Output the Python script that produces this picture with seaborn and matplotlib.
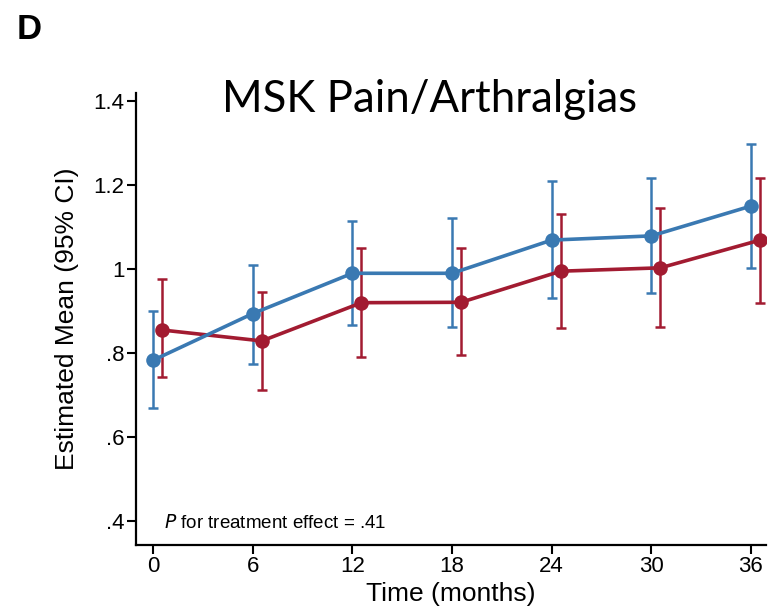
import numpy as np
import pandas as pd
import matplotlib
matplotlib.use("Agg")
import matplotlib.pyplot as plt
import seaborn as sns

# ---- data ----
months = [0, 6, 12, 18, 24, 30, 36]
groups = ["Group A", "Group B"]
mean_a = [0.783, 0.894, 0.990, 0.990, 1.069, 1.079, 1.150]
lo_a = [0.670, 0.775, 0.867, 0.861, 0.930, 0.944, 1.002]
hi_a = [0.900, 1.009, 1.114, 1.121, 1.210, 1.216, 1.298]
mean_b = [0.855, 0.829, 0.920, 0.921, 0.995, 1.003, 1.069]
lo_b = [0.744, 0.713, 0.791, 0.795, 0.859, 0.863, 0.920]
hi_b = [0.977, 0.946, 1.049, 1.049, 1.130, 1.146, 1.216]
y_ticks = [0.4, 0.6, 0.8, 1.0, 1.2, 1.4]
y_ticklabels = [".4", ".6", ".8", "1", "1.2", "1.4"]

blue = "#3a79b2"
red = "#a21b31"
dodge = {"Group A": 0.0, "Group B": 0.55}

rows = []
for g, m, lo, hi in [("Group A", mean_a, lo_a, hi_a), ("Group B", mean_b, lo_b, hi_b)]:
    for t, v, l, h in zip(months, m, lo, hi):
        rows.append({"group": g, "month": t, "x": t + dodge[g], "mean": v, "lo": l, "hi": h})
df = pd.DataFrame(rows)

sns.set_style("white")
narrow = ["Liberation Sans Narrow", "Liberation Sans", "DejaVu Sans"]
plt.rcParams["font.family"] = narrow
plt.rcParams["text.color"] = "black"
plt.rcParams["axes.labelcolor"] = "black"
plt.rcParams["xtick.color"] = "black"
plt.rcParams["ytick.color"] = "black"

fig = plt.figure(figsize=(7.69, 6.16), dpi=100)
ax = fig.add_axes([0.177, 0.115, 0.819, 0.734])

palette = {"Group A": blue, "Group B": red}
for g in ["Group B", "Group A"]:
    sub = df[df["group"] == g]
    ax.errorbar(sub["x"], sub["mean"],
                yerr=[sub["mean"] - sub["lo"], sub["hi"] - sub["mean"]],
                fmt="none", ecolor=palette[g], elinewidth=1.8, capsize=3.5,
                capthick=1.8, zorder=2)
    sns.lineplot(data=sub, x="x", y="mean", color=palette[g], marker="o",
                 markersize=10.5, markeredgewidth=0, linewidth=2.6, ax=ax,
                 legend=False, zorder=3, errorbar=None)

ax.set_xlim(-1.02, 36.9)
ax.set_ylim(0.343, 1.419)
ax.set_xticks(months)
ax.set_xticklabels([str(m) for m in months])
ax.set_yticks(y_ticks)
ax.set_yticklabels(y_ticklabels)

for s in ["top", "right"]:
    ax.spines[s].set_visible(False)
for s in ["left", "bottom"]:
    ax.spines[s].set_color("black")
    ax.spines[s].set_linewidth(1.6)
ax.tick_params(axis="both", which="both", direction="out", length=6.5,
               width=1.5, color="black", labelsize=16,
               left=True, bottom=True)
ax.tick_params(axis="x", pad=1)
ax.tick_params(axis="y", pad=2)

ax.set_xlabel("Time (months)", fontsize=19, labelpad=4)
ax.set_ylabel("Estimated Mean (95% CI)", fontsize=19, labelpad=10)

ax.text(0.045, 0.05, "$\\it{P}$ for treatment effect = .41", transform=ax.transAxes,
        fontsize=13.5, ha="left", va="center")

fig.text(0.558, 0.838, "MSK Pain/Arthralgias", ha="center", va="center",
         fontsize=31.5, family=["Lato", "DejaVu Sans"], color="black")
fig.text(0.022, 0.952, "D", ha="left", va="center", fontsize=25,
         fontweight="bold", family=["Liberation Sans", "DejaVu Sans"], color="black")

fig.savefig("out.png", dpi=100)
